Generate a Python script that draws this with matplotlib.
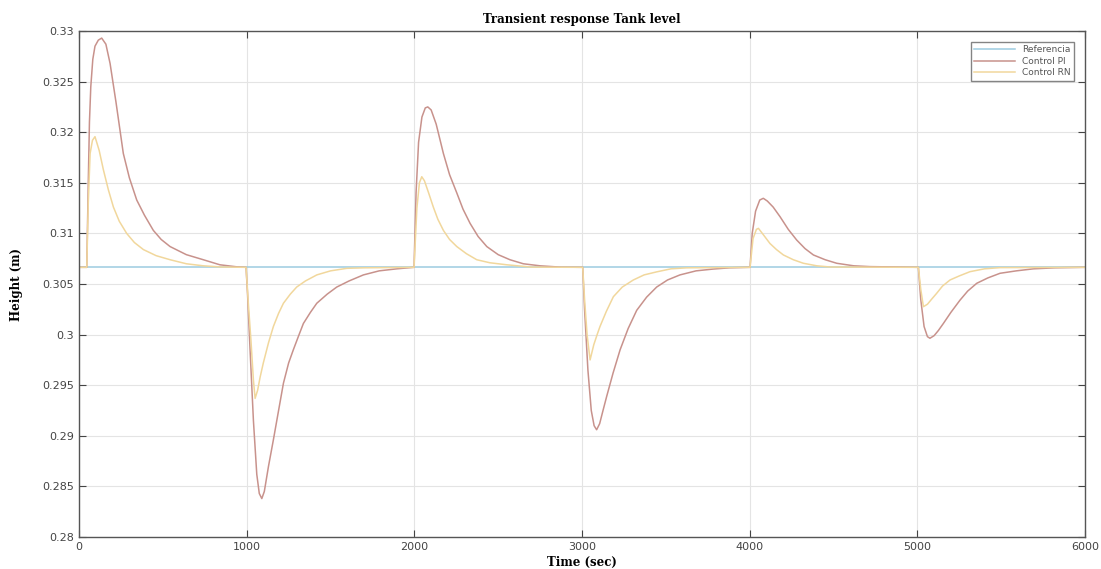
import matplotlib.pyplot as plt
import numpy as np

# reference level (m) and time span (sec)
t_ref = [0, 6000]
h_ref = [0.30665, 0.30665]

# Control PI, points
t_pi = [0, 46, 55, 62, 70, 82, 95, 115, 135, 160, 185, 220, 264, 300, 344, 390, 443, 490, 543, 640, 741, 840, 940, 996,
        1005, 1020, 1040, 1060, 1075, 1090, 1105, 1130, 1159, 1190, 1219, 1250, 1278, 1310, 1338, 1380, 1418,
        1480, 1537, 1610, 1696, 1790, 1895, 1998,
        2010, 2025, 2045, 2065, 2080, 2100, 2130, 2173, 2210, 2253, 2290, 2332, 2380, 2432, 2500, 2570,
        2650, 2749, 2870, 3004,
        3015, 3035, 3055, 3072, 3087, 3105, 3125, 3147, 3185, 3227, 3275, 3326, 3385, 3445, 3510, 3584,
        3680, 3783, 3880, 4002,
        4015, 4035, 4060, 4081, 4105, 4140, 4181, 4230, 4280, 4330, 4380, 4450, 4519, 4620, 4717, 5006,
        5020, 5040, 5060, 5075, 5100, 5125, 5155, 5200, 5254, 5300, 5354, 5420, 5493, 5590, 5692, 5820, 6000]
h_pi = [0.30665, 0.30665, 0.3150, 0.3210, 0.3245, 0.3272, 0.3285, 0.3291, 0.3293, 0.3287, 0.3268, 0.3230,
        0.3179, 0.3155, 0.3133, 0.3118, 0.3103, 0.3094, 0.3087, 0.3079, 0.3074, 0.3069, 0.3067, 0.30665,
        0.3040, 0.2985, 0.2915, 0.2862, 0.2843, 0.2838, 0.2845, 0.2870, 0.2896, 0.2925, 0.2952, 0.2972,
        0.2985, 0.2999, 0.3011, 0.3022, 0.3031, 0.3040, 0.3047, 0.3053, 0.3059, 0.3063, 0.3065, 0.30665,
        0.3140, 0.3190, 0.3215, 0.3224, 0.3225, 0.3222, 0.3208, 0.3179, 0.3158, 0.3140, 0.3124, 0.3110,
        0.3097, 0.3087, 0.3079, 0.3074, 0.3070, 0.3068, 0.30667, 0.30665,
        0.3025, 0.2965, 0.2925, 0.2910, 0.2906, 0.2912, 0.2925, 0.2939, 0.2962, 0.2985, 0.3006, 0.3024,
        0.3037, 0.3047, 0.3054, 0.3059, 0.3063, 0.30648, 0.3066, 0.30665,
        0.3100, 0.3122, 0.3133, 0.31347, 0.3132, 0.3126, 0.31165, 0.3104, 0.30935, 0.3085, 0.30787,
        0.3074, 0.30705, 0.3068, 0.30672, 0.30665,
        0.3035, 0.3008, 0.2998, 0.29964, 0.2999, 0.3004, 0.3011, 0.3022, 0.3034, 0.3043, 0.30507,
        0.3056, 0.30606, 0.3063, 0.3065, 0.3066, 0.30665]

# Control RN
t_rn = [0, 46, 55, 66, 80, 95, 120, 145, 175, 205, 240, 284, 330, 384, 460, 543, 640, 741, 850, 996,
        1010, 1025, 1040, 1050, 1065, 1080, 1099, 1130, 1159, 1190, 1219, 1260, 1298, 1350, 1418, 1500,
        1597, 1700, 1998,
        2015, 2030, 2044, 2060, 2085, 2113, 2140, 2173, 2210, 2253, 2310, 2372, 2450, 2551, 2700, 3004,
        3015, 3030, 3048, 3070, 3090, 3107, 3145, 3187, 3240, 3306, 3370, 3445, 3530, 3624, 4002,
        4020, 4040, 4052, 4080, 4121, 4160, 4201, 4260, 4320, 4400, 4480, 5006,
        5020, 5036, 5060, 5085, 5115, 5150, 5195, 5250, 5314, 5400, 5493, 6000]
h_rn = [0.30665, 0.30665, 0.3130, 0.3179, 0.3192, 0.31956, 0.3182, 0.3163, 0.3143, 0.3126, 0.3112,
        0.3100, 0.3091, 0.3084, 0.3078, 0.3074, 0.3070, 0.3068, 0.30668, 0.30665,
        0.3030, 0.2995, 0.2955, 0.2937, 0.2945, 0.2958, 0.2972, 0.2992, 0.3008, 0.3021, 0.3031, 0.3040,
        0.3047, 0.3053, 0.3059, 0.3063, 0.30655, 0.3066, 0.30665,
        0.3125, 0.3150, 0.3156, 0.3152, 0.3140, 0.3126, 0.3114, 0.3103, 0.3094, 0.3087, 0.3080, 0.3074,
        0.3071, 0.3069, 0.30667, 0.30665,
        0.3035, 0.3000, 0.2975, 0.2990, 0.3000, 0.3008, 0.3023, 0.30375, 0.3047, 0.3054, 0.3059, 0.3062,
        0.3065, 0.3066, 0.30665,
        0.3095, 0.3104, 0.3105, 0.3099, 0.3090, 0.3084, 0.30787, 0.3074, 0.30705, 0.3068, 0.30668, 0.30665,
        0.3045, 0.30276, 0.3030, 0.3035, 0.30408, 0.3048, 0.3054, 0.3058, 0.30622, 0.3065, 0.30662, 0.30665]

fig = plt.figure(figsize=(11.01, 5.69), dpi=100)
ax = fig.add_axes([0.0718, 0.0562, 0.9137, 0.8893])

ax.plot(t_ref, h_ref, color='#9ccbe0', linewidth=1.1, label='Referencia')
ax.plot(t_pi, h_pi, color='#c8928c', linewidth=1.1, label='Control PI')
ax.plot(t_rn, h_rn, color='#f1d79c', linewidth=1.1, label='Control RN')

ax.axis((0, 6000, 0.28, 0.33))
ax.set_xticks(np.arange(0, 6001, 1000))
ax.set_yticks(np.arange(0.28, 0.3301, 0.005))
ax.set_yticklabels(['0.28', '0.285', '0.29', '0.295', '0.3', '0.305',
                    '0.31', '0.315', '0.32', '0.325', '0.33'])
ax.grid(True, color='#e4e4e4', linewidth=0.8)
ax.tick_params(direction='in', top=True, right=True, labelsize=8,
               colors='#444444', length=5)
for s in ax.spines.values():
    s.set_color('#555555')
    s.set_linewidth(1.0)

ax.set_title('Transient response Tank level', fontsize=8.5, fontweight='bold',
             family='DejaVu Serif', pad=6)
ax.set_xlabel('Time (sec)', fontsize=8.5, fontweight='bold', family='DejaVu Serif',
              labelpad=3)
ax.set_ylabel('Height (m)', fontsize=8.5, fontweight='bold', family='DejaVu Serif',
              labelpad=14)

leg = ax.legend(loc='upper right', fontsize=6.5, handlelength=4.5,
                fancybox=False, edgecolor='#666666', borderaxespad=1.2,
                labelspacing=0.25)
for txt in leg.get_texts():
    txt.set_color('#555555')

fig.savefig('out.png', dpi=100)
